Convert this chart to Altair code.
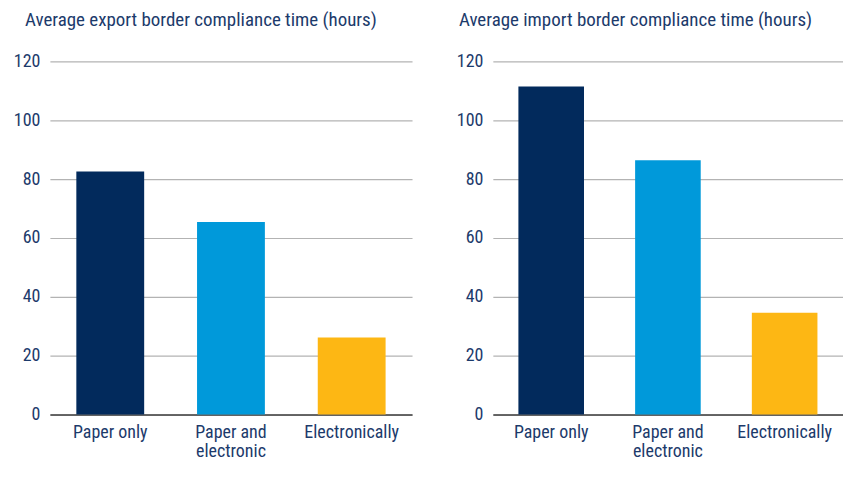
import altair as alt
import pandas as pd

categories = ["Paper only", "Paper and electronic", "Electronically"]
export_hours = [82.6, 65.4, 26.2]
import_hours = [111.5, 86.4, 34.6]
colors = ["#022a5c", "#0099da", "#fdb714"]
y_ticks = [0, 20, 40, 60, 80, 100, 120]

FONT = "Liberation Sans Narrow, Roboto Condensed, sans-serif"
TEXT = "#1c3a6b"


def panel(values, title, width, dx):
    df = pd.DataFrame({"category": categories, "hours": values})
    return (
        alt.Chart(df)
        .mark_bar()
        .encode(
            x=alt.X(
                "category:N",
                sort=categories,
                scale=alt.Scale(paddingInner=0.438, paddingOuter=0.219),
                axis=alt.Axis(
                    title=None,
                    labelAngle=0,
                    labelFont=FONT,
                    labelFontSize=18,
                    labelColor=TEXT,
                    labelPadding=9,
                    labelLineHeight=19,
                    labelBaseline="top",
                    ticks=False,
                    grid=False,
                    domainColor="#404040",
                    domainWidth=1.5,
                    labelExpr="datum.value == 'Paper and electronic' ? ['Paper and', 'electronic'] : datum.value",
                ),
            ),
            y=alt.Y(
                "hours:Q",
                scale=alt.Scale(domain=[0, 120], nice=False),
                axis=alt.Axis(
                    title=None,
                    values=y_ticks,
                    domain=False,
                    ticks=False,
                    labelFont=FONT,
                    labelFontSize=18,
                    labelColor=TEXT,
                    labelPadding=10,
                    gridColor="#b3b3b3",
                    gridWidth=1.2,
                ),
            ),
            color=alt.Color(
                "category:N",
                scale=alt.Scale(domain=categories, range=colors),
                legend=None,
            ),
        )
        .properties(
            width=width,
            height=354,
            view=alt.ViewBackground(stroke="transparent", strokeWidth=0, strokeOpacity=0),
            title=alt.TitleParams(
                title,
                anchor="start",
                frame="group",
                dx=dx,
                font=FONT,
                fontSize=19,
                fontWeight="normal",
                color=TEXT,
                offset=23,
            ),
        )
    )


left = panel(export_hours, "Average export border compliance time (hours)", 363, -25)
right = panel(import_hours, "Average import border compliance time (hours)", 351, -34)

chart = (
    alt.hconcat(left, right, spacing=44)
    .properties(padding={"left": 5, "top": 2, "right": 0, "bottom": 5})
    .configure_view(stroke="transparent", strokeWidth=0)
    .configure(background="white")
)

chart.save("out.html", embed_options={"renderer": "svg", "actions": False})
